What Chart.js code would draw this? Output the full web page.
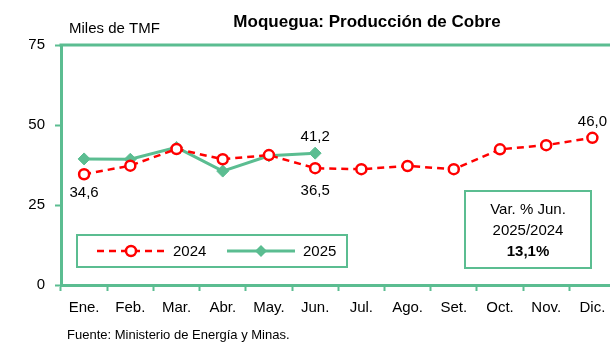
<!DOCTYPE html>
<html>
<head>
<meta charset="utf-8">
<script src="https://cdn.jsdelivr.net/npm/chart.js@4"></script>
<style>
  html, body { margin: 0; padding: 0; background: #fff; overflow: hidden; }
  #wrap { width: 610px; height: 343px; overflow: hidden; }
</style>
</head>
<body>
<!-- the plot runs slightly past the right edge, so the canvas is wider than the frame -->
<div id="wrap"><canvas id="Cobre" width="623" height="343"></canvas></div>
<script>
// monthly copper output, thousands of fine metric tons
const months = ["Ene.", "Feb.", "Mar.", "Abr.", "May.", "Jun.", "Jul.", "Ago.", "Set.", "Oct.", "Nov.", "Dic."];
const prod2024 = [34.6, 37.3, 42.5, 39.3, 40.6, 36.5, 36.2, 37.2, 36.2, 42.4, 43.7, 46.0];
const prod2025 = [39.4, 39.3, 43.0, 35.6, 40.4, 41.2];
const yTicks = [0, 25, 50, 75];

const GREEN = "#5bbd91";
const RED = "#ff0000";
const FONT = "'Liberation Sans', Arial, sans-serif";

// which points get a value label, and how far above/below
const valueLabels = [
  { ds: 0, i: 0, dy: 19 },
  { ds: 0, i: 5, dy: 23 },
  { ds: 1, i: 5, dy: -16 },
  { ds: 0, i: 11, dy: -16 },
];

function fmt(v) {
  return v.toFixed(1).replace(".", ",");
}

const extras = {
  id: "extras",
  afterDraw(chart) {
    const ctx = chart.ctx;
    const area = chart.chartArea;
    ctx.save();

    // top border of the plot
    ctx.strokeStyle = GREEN;
    ctx.lineWidth = 3;
    ctx.beginPath();
    ctx.moveTo(area.left - 1.5, area.top);
    ctx.lineTo(chart.width, area.top);
    ctx.stroke();

    // title and unit
    ctx.fillStyle = "#000";
    ctx.textBaseline = "middle";
    ctx.textAlign = "center";
    ctx.font = "bold 17px " + FONT;
    ctx.fillText("Moquegua: Producción de Cobre", 367, 22);
    ctx.textAlign = "left";
    ctx.font = "15px " + FONT;
    ctx.fillText("Miles de TMF", 69, 29);

    // source line
    ctx.font = "13px " + FONT;
    ctx.fillText("Fuente: Ministerio de Energía y Minas.", 67, 335);

    // value labels
    ctx.font = "15px " + FONT;
    ctx.textAlign = "center";
    valueLabels.forEach(l => {
      const pt = chart.getDatasetMeta(l.ds).data[l.i];
      const v = chart.data.datasets[l.ds].data[l.i];
      ctx.fillText(fmt(v), pt.x, pt.y + l.dy);
    });

    // legend box
    ctx.strokeStyle = GREEN;
    ctx.lineWidth = 2;
    ctx.strokeRect(77, 235, 270, 32);
    const ly = 251;
    chart.data.datasets.forEach((ds, k) => {
      const x0 = k === 0 ? 97 : 227;
      const x1 = x0 + 68;
      ctx.strokeStyle = ds.borderColor;
      ctx.lineWidth = ds.borderWidth;
      ctx.setLineDash(ds.borderDash || []);
      ctx.beginPath();
      ctx.moveTo(x0, ly);
      ctx.lineTo(x1, ly);
      ctx.stroke();
      ctx.setLineDash([]);
      const cx = (x0 + x1) / 2;
      ctx.fillStyle = ds.pointBackgroundColor;
      ctx.strokeStyle = ds.pointBorderColor;
      ctx.lineWidth = ds.pointBorderWidth;
      ctx.beginPath();
      if (ds.pointStyle === "rectRot") {
        const r = ds.pointRadius;
        ctx.moveTo(cx, ly - r);
        ctx.lineTo(cx + r, ly);
        ctx.lineTo(cx, ly + r);
        ctx.lineTo(cx - r, ly);
        ctx.closePath();
        ctx.fill();
      } else {
        ctx.arc(cx, ly, ds.pointRadius, 0, Math.PI * 2);
        ctx.fill();
        ctx.stroke();
      }
      ctx.fillStyle = "#000";
      ctx.textAlign = "left";
      ctx.font = "15px " + FONT;
      ctx.fillText(ds.label, x1 + 8, ly + 1);
    });

    // variation note
    ctx.strokeStyle = GREEN;
    ctx.lineWidth = 2;
    ctx.strokeRect(465, 191, 126, 77);
    ctx.fillStyle = "#000";
    ctx.textAlign = "center";
    ctx.font = "15px " + FONT;
    ctx.fillText("Var. % Jun.", 528, 210);
    ctx.fillText("2025/2024", 528, 231);
    ctx.font = "bold 15px " + FONT;
    ctx.fillText("13,1%", 528, 252);

    ctx.restore();
  },
};

function createCobreChart() {
  const canvas = document.querySelector("#Cobre");
  const options = {
    type: "line",
    data: {
      labels: months,
      datasets: [
        {
          label: "2024",
          data: prod2024,
          borderColor: RED,
          borderWidth: 2.5,
          borderDash: [7, 5],
          pointStyle: "circle",
          pointRadius: 5,
          pointBackgroundColor: "#fff",
          pointBorderColor: RED,
          pointBorderWidth: 2.5,
          tension: 0,
        },
        {
          label: "2025",
          data: prod2025,
          borderColor: GREEN,
          borderWidth: 3,
          pointStyle: "rectRot",
          pointRadius: 6,
          pointBackgroundColor: GREEN,
          pointBorderColor: GREEN,
          pointBorderWidth: 1,
          tension: 0,
        },
      ],
    },
    options: {
      responsive: false,
      animation: false,
      layout: { padding: { top: 45, right: 0, bottom: 0, left: 0 } },
      scales: {
        x: {
          offset: true,
          grid: {
            offset: true,
            drawOnChartArea: false,
            tickLength: 6,
            tickColor: GREEN,
            tickWidth: 2,
          },
          border: { color: GREEN, width: 3 },
          ticks: {
            color: "#000",
            padding: 8,
            maxRotation: 0,
            font: { family: FONT, size: 15 },
          },
          afterFit(axis) { axis.height = 58; },
        },
        y: {
          min: 0,
          max: 75,
          afterBuildTicks(axis) { axis.ticks = yTicks.map(v => ({ value: v })); },
          grid: {
            drawOnChartArea: false,
            tickLength: 6,
            tickColor: GREEN,
            tickWidth: 2,
          },
          border: { color: GREEN, width: 3 },
          ticks: {
            color: "#000",
            padding: 10,
            font: { family: FONT, size: 15 },
          },
          afterFit(axis) { axis.width = 61; },
        },
      },
      plugins: {
        legend: { display: false },
        title: { display: false },
        tooltip: { enabled: false },
      },
    },
    plugins: [extras],
  };
  new Chart(canvas.getContext("2d"), options);
}

createCobreChart();
</script>
</body>
</html>
